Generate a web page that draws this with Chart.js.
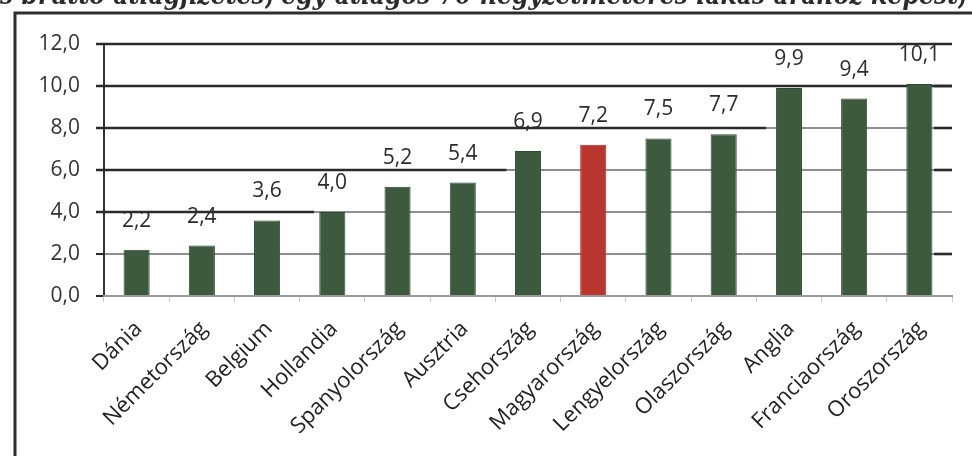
<!DOCTYPE html>
<html lang="hu">
<head>
<meta charset="utf-8">
<title>Lakásárak és bérek</title>
<script src="https://cdn.jsdelivr.net/npm/chart.js@4.4.1/dist/chart.umd.min.js"></script>
<style>
  html, body { margin: 0; padding: 0; background: #fff; overflow: hidden; }
  #wrap { position: relative; width: 972px; height: 456px; overflow: hidden; }
  #title {
    position: absolute; left: 0; top: -19px;
    font: italic bold 27px "DejaVu Serif", serif;
    color: #2b2b2b; white-space: nowrap; transform-origin: 0 0;
    line-height: 27px;
  }
  canvas { position: absolute; left: 0; top: 0; }
</style>
</head>
<body>
<div id="wrap">
  <canvas id="chart" width="972" height="456"></canvas>
  <div id="title">s bruttó átlagfizetés, egy átlagos 70 négyzetméteres lakás árához képest,</div>
</div>
<script>
// Countries and the number of years of gross average pay needed for a 70 m² flat
const countries = ['Dánia', 'Németország', 'Belgium', 'Hollandia', 'Spanyolország', 'Ausztria',
  'Csehország', 'Magyarország', 'Lengyelország', 'Olaszország', 'Anglia', 'Franciaország', 'Oroszország'];
const years = [2.2, 2.4, 3.6, 4.0, 5.2, 5.4, 6.9, 7.2, 7.5, 7.7, 9.9, 9.4, 10.1];
const yTickLabels = ['0,0', '2,0', '4,0', '6,0', '8,0', '10,0', '12,0'];
const highlighted = 'Magyarország';

// Title width fitted to the page
const t = document.getElementById('title');
t.style.transform = 'scaleX(' + (966 / t.offsetWidth) + ')';

const GREEN = '#3d5a3e';
const RED = '#b9372e';

// Darker stepped rule lines: value on the y axis, end position in category units
const stepRules = [
  { value: 12, to: 12.5 },
  { value: 10, to: 12.5 },
  { value: 8, to: 9.65 },
  { value: 6, to: 5.67 },
  { value: 4, to: 2.72 }
];
const rightStubs = [10, 8, 6, 2];

const frame = {
  id: 'frame',
  beforeDraw(chart) {
    const ctx = chart.ctx;
    ctx.save();
    ctx.fillStyle = '#fff';
    ctx.fillRect(0, 0, chart.width, chart.height);
    ctx.strokeStyle = '#2e2e2e';
    ctx.lineWidth = 3;
    ctx.beginPath();
    ctx.moveTo(15, chart.height + 2);
    ctx.lineTo(15, 13);
    ctx.lineTo(chart.width, 13);
    ctx.stroke();
    ctx.restore();
  }
};

const rules = {
  id: 'rules',
  beforeDatasetsDraw(chart) {
    const { ctx, scales: { x, y }, chartArea } = chart;
    ctx.save();
    ctx.strokeStyle = '#2a2a2a';
    ctx.lineWidth = 2.6;
    stepRules.forEach(r => {
      const py = Math.round(y.getPixelForValue(r.value));
      ctx.beginPath();
      ctx.moveTo(chartArea.left - 8, py);
      ctx.lineTo(Math.min(x.getPixelForValue(r.to), chartArea.right), py);
      ctx.stroke();
    });
    rightStubs.forEach(v => {
      const py = Math.round(y.getPixelForValue(v));
      ctx.beginPath();
      ctx.moveTo(chartArea.right - 18, py);
      ctx.lineTo(chartArea.right, py);
      ctx.stroke();
    });
    ctx.restore();
  }
};

const valueLabels = {
  id: 'valueLabels',
  afterDatasetsDraw(chart) {
    const ctx = chart.ctx;
    const meta = chart.getDatasetMeta(0);
    ctx.save();
    ctx.font = '21px "Open Sans", sans-serif';
    ctx.fillStyle = '#2b2b2b';
    ctx.textAlign = 'center';
    ctx.textBaseline = 'middle';
    meta.data.forEach((bar, i) => {
      ctx.fillText(years[i].toFixed(1).replace('.', ','), bar.x, bar.y - 29);
    });
    ctx.restore();
  }
};

new Chart(document.getElementById('chart'), {
  type: 'bar',
  data: {
    labels: countries,
    datasets: [{
      data: years,
      backgroundColor: countries.map(c => c === highlighted ? RED : GREEN),
      borderColor: countries.map(c => c === highlighted ? '#a02e26' : '#314a32'),
      borderWidth: 1,
      barPercentage: 0.4,
      categoryPercentage: 1.0
    }]
  },
  options: {
    responsive: false,
    animation: false,
    devicePixelRatio: 1,
    layout: { padding: { left: 0, right: 20, top: 44, bottom: 0 } },
    plugins: { legend: { display: false }, tooltip: { enabled: false } },
    scales: {
      y: {
        min: 0, max: 12,
        afterFit(scale) { scale.width = 104; },
        ticks: {
          stepSize: 2,
          padding: 16,
          color: '#333',
          font: { family: '"Open Sans", sans-serif', size: 21 },
          callback: (v, i) => yTickLabels[i]
        },
        grid: { color: '#8f8f8f', lineWidth: 2, tickColor: '#2a2a2a', tickLength: 8 },
        border: { display: true, color: '#333', width: 2 }
      },
      x: {
        afterFit(scale) { scale.height = 160; },
        ticks: {
          autoSkip: false,
          minRotation: 45, maxRotation: 45,
          padding: 14,
          labelOffset: 2,
          color: '#222',
          font: { family: '"Open Sans", sans-serif', size: 22 }
        },
        grid: { drawOnChartArea: false, color: '#c8c8c8', tickLength: 6, offset: true },
        border: { display: true, color: '#9a9a9a', width: 2 }
      }
    }
  },
  plugins: [frame, rules, valueLabels]
});
</script>
</body>
</html>
